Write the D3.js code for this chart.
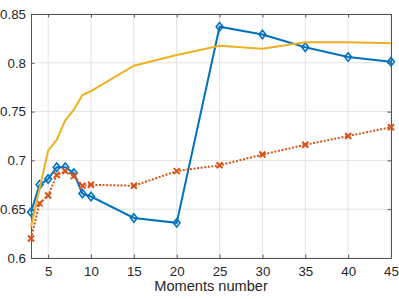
<!DOCTYPE html>
<html>
<head>
<meta charset="utf-8">
<script src="https://cdn.jsdelivr.net/npm/d3@7"></script>
<style>
    body { margin: 0; background: #fff; }
    text { font-family: "Liberation Sans", Arial, sans-serif; fill: #262626; }
</style>
</head>
<body>
<div id="chart"></div>
<script>
// moments number on the x axis
const moments = [3, 4, 5, 6, 7, 8, 9, 10, 15, 20, 25, 30, 35, 40, 45];

// three series
const blueSeries = [0.647, 0.675, 0.681, 0.693, 0.693, 0.687, 0.666, 0.663, 0.641, 0.636, 0.837, 0.829, 0.816, 0.806, 0.801];
const redSeries = [0.620, 0.656, 0.664, 0.685, 0.689, 0.684, 0.674, 0.675, 0.674, 0.689, 0.695, 0.706, 0.716, 0.725, 0.734];
const yellowSeries = [0.632, 0.671, 0.710, 0.721, 0.741, 0.752, 0.767, 0.771, 0.797, 0.808, 0.8175, 0.8145, 0.821, 0.821, 0.820];

const xTicks = [5, 10, 15, 20, 25, 30, 35, 40, 45];
const yTicks = [0.6, 0.65, 0.7, 0.75, 0.8, 0.85];
const yTickLabels = ['0.6', '0.65', '0.7', '0.75', '0.8', '0.85'];
const xLabel = 'Moments number';

const w = 399, h = 299;
const box = { left: 31, right: 391, top: 14, bottom: 258 };

const svg = d3.select('#chart').append('svg')
    .attr('width', w)
    .attr('height', h);

const x = d3.scaleLinear().domain([3, 45]).range([box.left, box.right]);
const y = d3.scaleLinear().domain([0.6, 0.85]).range([box.bottom, box.top]);

// grid
svg.append('g')
    .selectAll('line')
    .data(xTicks)
    .enter()
    .append('line')
    .attr('x1', d => x(d)).attr('x2', d => x(d))
    .attr('y1', box.top).attr('y2', box.bottom)
    .attr('stroke', '#e3e3e3')
    .attr('stroke-width', 1);

svg.append('g')
    .selectAll('line')
    .data(yTicks)
    .enter()
    .append('line')
    .attr('x1', box.left).attr('x2', box.right)
    .attr('y1', d => y(d)).attr('y2', d => y(d))
    .attr('stroke', '#e3e3e3')
    .attr('stroke-width', 1);

// axes: ticks point inward, box on
const tickLen = 3.5;
const bottomAxis = svg.append('g')
    .attr('transform', `translate(0, ${box.bottom})`)
    .call(d3.axisBottom(x).tickValues(xTicks).tickSizeInner(-tickLen).tickSizeOuter(0).tickPadding(8.5));
const topAxis = svg.append('g')
    .attr('transform', `translate(0, ${box.top})`)
    .call(d3.axisTop(x).tickValues(xTicks).tickSizeInner(-tickLen).tickSizeOuter(0).tickFormat(''));
const leftAxis = svg.append('g')
    .attr('transform', `translate(${box.left}, 0)`)
    .call(d3.axisLeft(y).tickValues(yTicks).tickSizeInner(-tickLen).tickSizeOuter(0).tickPadding(5)
        .tickFormat((d, i) => yTickLabels[i]));
const rightAxis = svg.append('g')
    .attr('transform', `translate(${box.right}, 0)`)
    .call(d3.axisRight(y).tickValues(yTicks).tickSizeInner(-tickLen).tickSizeOuter(0).tickFormat(''));

[bottomAxis, topAxis, leftAxis, rightAxis].forEach(a => {
    a.select('.domain').attr('stroke', '#555').attr('stroke-width', 1);
    a.selectAll('.tick line').attr('stroke', '#555').attr('stroke-width', 1);
    a.selectAll('.tick text')
        .style('font-size', '13.3px')
        .style('font-family', '"Liberation Sans", Arial, sans-serif')
        .attr('fill', '#262626');
});

svg.append('text')
    .attr('text-anchor', 'middle')
    .attr('x', (box.left + box.right) / 2)
    .attr('y', 291)
    .text(xLabel)
    .style('font-size', '14.6px');

const line = d3.line()
    .x((d, i) => x(moments[i]))
    .y(d => y(d));

// blue series with diamond markers
svg.append('path')
    .datum(blueSeries)
    .attr('d', line)
    .attr('fill', 'none')
    .attr('stroke', '#0072BD')
    .attr('stroke-width', 2);

svg.append('g')
    .selectAll('path')
    .data(blueSeries)
    .enter()
    .append('path')
    .attr('transform', (d, i) => `translate(${x(moments[i])}, ${y(d)})`)
    .attr('d', 'M0,-4.2L3.4,0L0,4.2L-3.4,0Z')
    .attr('fill', 'none')
    .attr('stroke', '#0072BD')
    .attr('stroke-width', 1.6);

// red dotted series with x markers
svg.append('path')
    .datum(redSeries)
    .attr('d', line)
    .attr('fill', 'none')
    .attr('stroke', '#D95319')
    .attr('stroke-width', 2)
    .attr('stroke-dasharray', '2,1.6');

svg.append('g')
    .selectAll('path')
    .data(redSeries)
    .enter()
    .append('path')
    .attr('transform', (d, i) => `translate(${x(moments[i])}, ${y(d)})`)
    .attr('d', 'M-3,-3L3,3M-3,3L3,-3')
    .attr('fill', 'none')
    .attr('stroke', '#D95319')
    .attr('stroke-width', 2);

// yellow solid series
svg.append('path')
    .datum(yellowSeries)
    .attr('d', line)
    .attr('fill', 'none')
    .attr('stroke', '#EDB120')
    .attr('stroke-width', 2);
</script>
</body>
</html>
